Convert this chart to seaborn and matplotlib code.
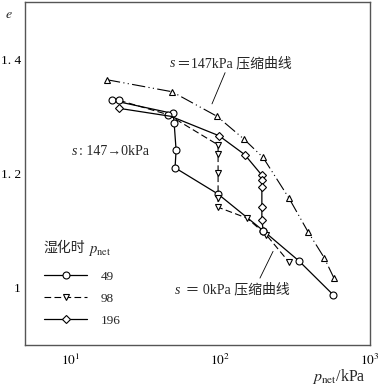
import matplotlib
matplotlib.use("Agg")
import matplotlib.pyplot as plt
import seaborn as sns
from matplotlib.lines import Line2D

# s = 147 kPa compression curve
p147 = [17.6, 47.9, 95.5, 144.5, 193.6, 288, 386, 494, 575]
e147 = [1.364, 1.343, 1.300, 1.260, 1.228, 1.157, 1.098, 1.053, 1.017]

# wetted at p_net = 49 kPa
p49 = [19.0, 48.6, 49.4, 50.9, 50.1, 97, 194, 336, 567]
e49 = [1.328, 1.305, 1.288, 1.241, 1.210, 1.164, 1.100, 1.047, 0.988]

# wetted at p_net = 98 kPa
p98 = [21.2, 45.0, 97, 97, 97, 97, 97, 151, 203, 288]
e98 = [1.328, 1.303, 1.250, 1.234, 1.200, 1.157, 1.141, 1.122, 1.093, 1.045]

# wetted at p_net = 196 kPa
p196 = [21.2, 47, 98.5, 146, 190, 190, 190, 190, 190, 194]
e196 = [1.314, 1.300, 1.266, 1.233, 1.197, 1.188, 1.176, 1.141, 1.119, 1.100]

legend_labels = ["49", "98", "196"]
ytick_vals = [1.0, 1.2, 1.4]
ytick_labels = ["1", "1. 2", "1. 4"]
xtick_vals = [10, 100, 1000]
xtick_labels = ["$10^1$", "$10^2$", "$10^3$"]

FONTS = ["Liberation Serif", "Noto Sans CJK SC"]

sns.set_style("white")
plt.rcParams["font.family"] = FONTS
plt.rcParams["mathtext.fontset"] = "stix"

fig = plt.figure(figsize=(3.8, 3.84), dpi=100)
ax = fig.add_axes([25 / 380, 1 - 345 / 384, 345 / 380, 343 / 384])

mk = dict(markerfacecolor="white", markeredgecolor="black", markeredgewidth=0.8,
          markersize=5)

sns.lineplot(x=p147, y=e147, ax=ax, sort=False, estimator=None, color="black",
             linewidth=0.8, linestyle=(0, (12, 3, 1, 3, 1, 3)), marker="^", **mk)
sns.lineplot(x=p49, y=e49, ax=ax, sort=False, estimator=None, color="black",
             linewidth=0.9, marker="o", **mk)
sns.lineplot(x=p98, y=e98, ax=ax, sort=False, estimator=None, color="black",
             linewidth=0.8, linestyle=(0, (6, 3)), marker="v",
             markevery=list(range(2, len(p98))), **mk)
ax.plot(p98[:2], e98[:2], linestyle="none", marker="o", **mk)
sns.lineplot(x=p196, y=e196, ax=ax, sort=False, estimator=None, color="black",
             linewidth=0.9, marker="D", markevery=[0] + list(range(2, len(p196) - 1)),
             **dict(mk, markersize=4.2))
# redraw the shared circle on top
ax.plot(p49[6:7], e49[6:7], linestyle="none", marker="o", **mk)

ax.set_xscale("log")
ax.set_xlim(5, 1000)
ax.set_ylim(0.9, 1.5)
ax.set_xticks(xtick_vals, labels=xtick_labels)
ax.set_yticks(ytick_vals, labels=ytick_labels)
ax.minorticks_off()
ax.tick_params(direction="in", length=4, width=0.8, labelsize=9.5, colors="black")
ax.tick_params(axis="x", pad=6)
ax.tick_params(axis="y", pad=3)
for sp in ax.spines.values():
    sp.set_color("#555555")
    sp.set_linewidth(1.0)
ax.set_xlabel("")
ax.set_ylabel("")


def label(x, y, italic, rest, size=10):
    # italic symbol followed by plain (possibly CJK) text
    t = ax.text(x, y, italic, transform=ax.transAxes, fontsize=size,
                style="italic", va="baseline", ha="left")
    ax.annotate(rest, xy=(1, 0), xycoords=t, xytext=(1, 0),
                textcoords="offset points", fontsize=size, va="bottom", ha="left")
    return t


# legend
handles = [
    Line2D([], [], color="black", linewidth=0.9, marker="o", **mk),
    Line2D([], [], color="black", linewidth=0.8, linestyle=(0, (6, 3)), marker="v", **mk),
    Line2D([], [], color="black", linewidth=0.9, marker="D", **dict(mk, markersize=4.2)),
]
leg = ax.legend(handles, legend_labels, title="湿化时",
                loc="upper left", bbox_to_anchor=(0.02, 0.32), frameon=False,
                fontsize=9.5, title_fontsize=10, handlelength=3.3, handletextpad=1.0,
                labelspacing=0.75, alignment="left")
leg.get_title().set_position((0, 6))
ax.text(0.183, 0.275, "$p_{\\rm net}$", transform=ax.transAxes, fontsize=10.5,
        va="center", ha="left")

# annotations
label(0.42, 0.81, "s", "＝147kPa 压缩曲线")
ax.plot([0.580, 0.542], [0.794, 0.703], transform=ax.transAxes, color="black",
        linewidth=0.6)
label(0.136, 0.553, "s", ": 147→0kPa")
label(0.435, 0.150, "s", " ＝ 0kPa 压缩曲线")
ax.plot([0.681, 0.719], [0.195, 0.273], transform=ax.transAxes, color="black",
        linewidth=0.6)

fig.text(5 / 380, 1 - 15 / 384, "$e$", fontsize=10, va="center", ha="left")
fig.text(366 / 380, 1 - 376 / 384, "$p_{\\rm net}$/kPa", fontsize=11.5,
         va="center", ha="right")

fig.savefig("out.png", dpi=100)
